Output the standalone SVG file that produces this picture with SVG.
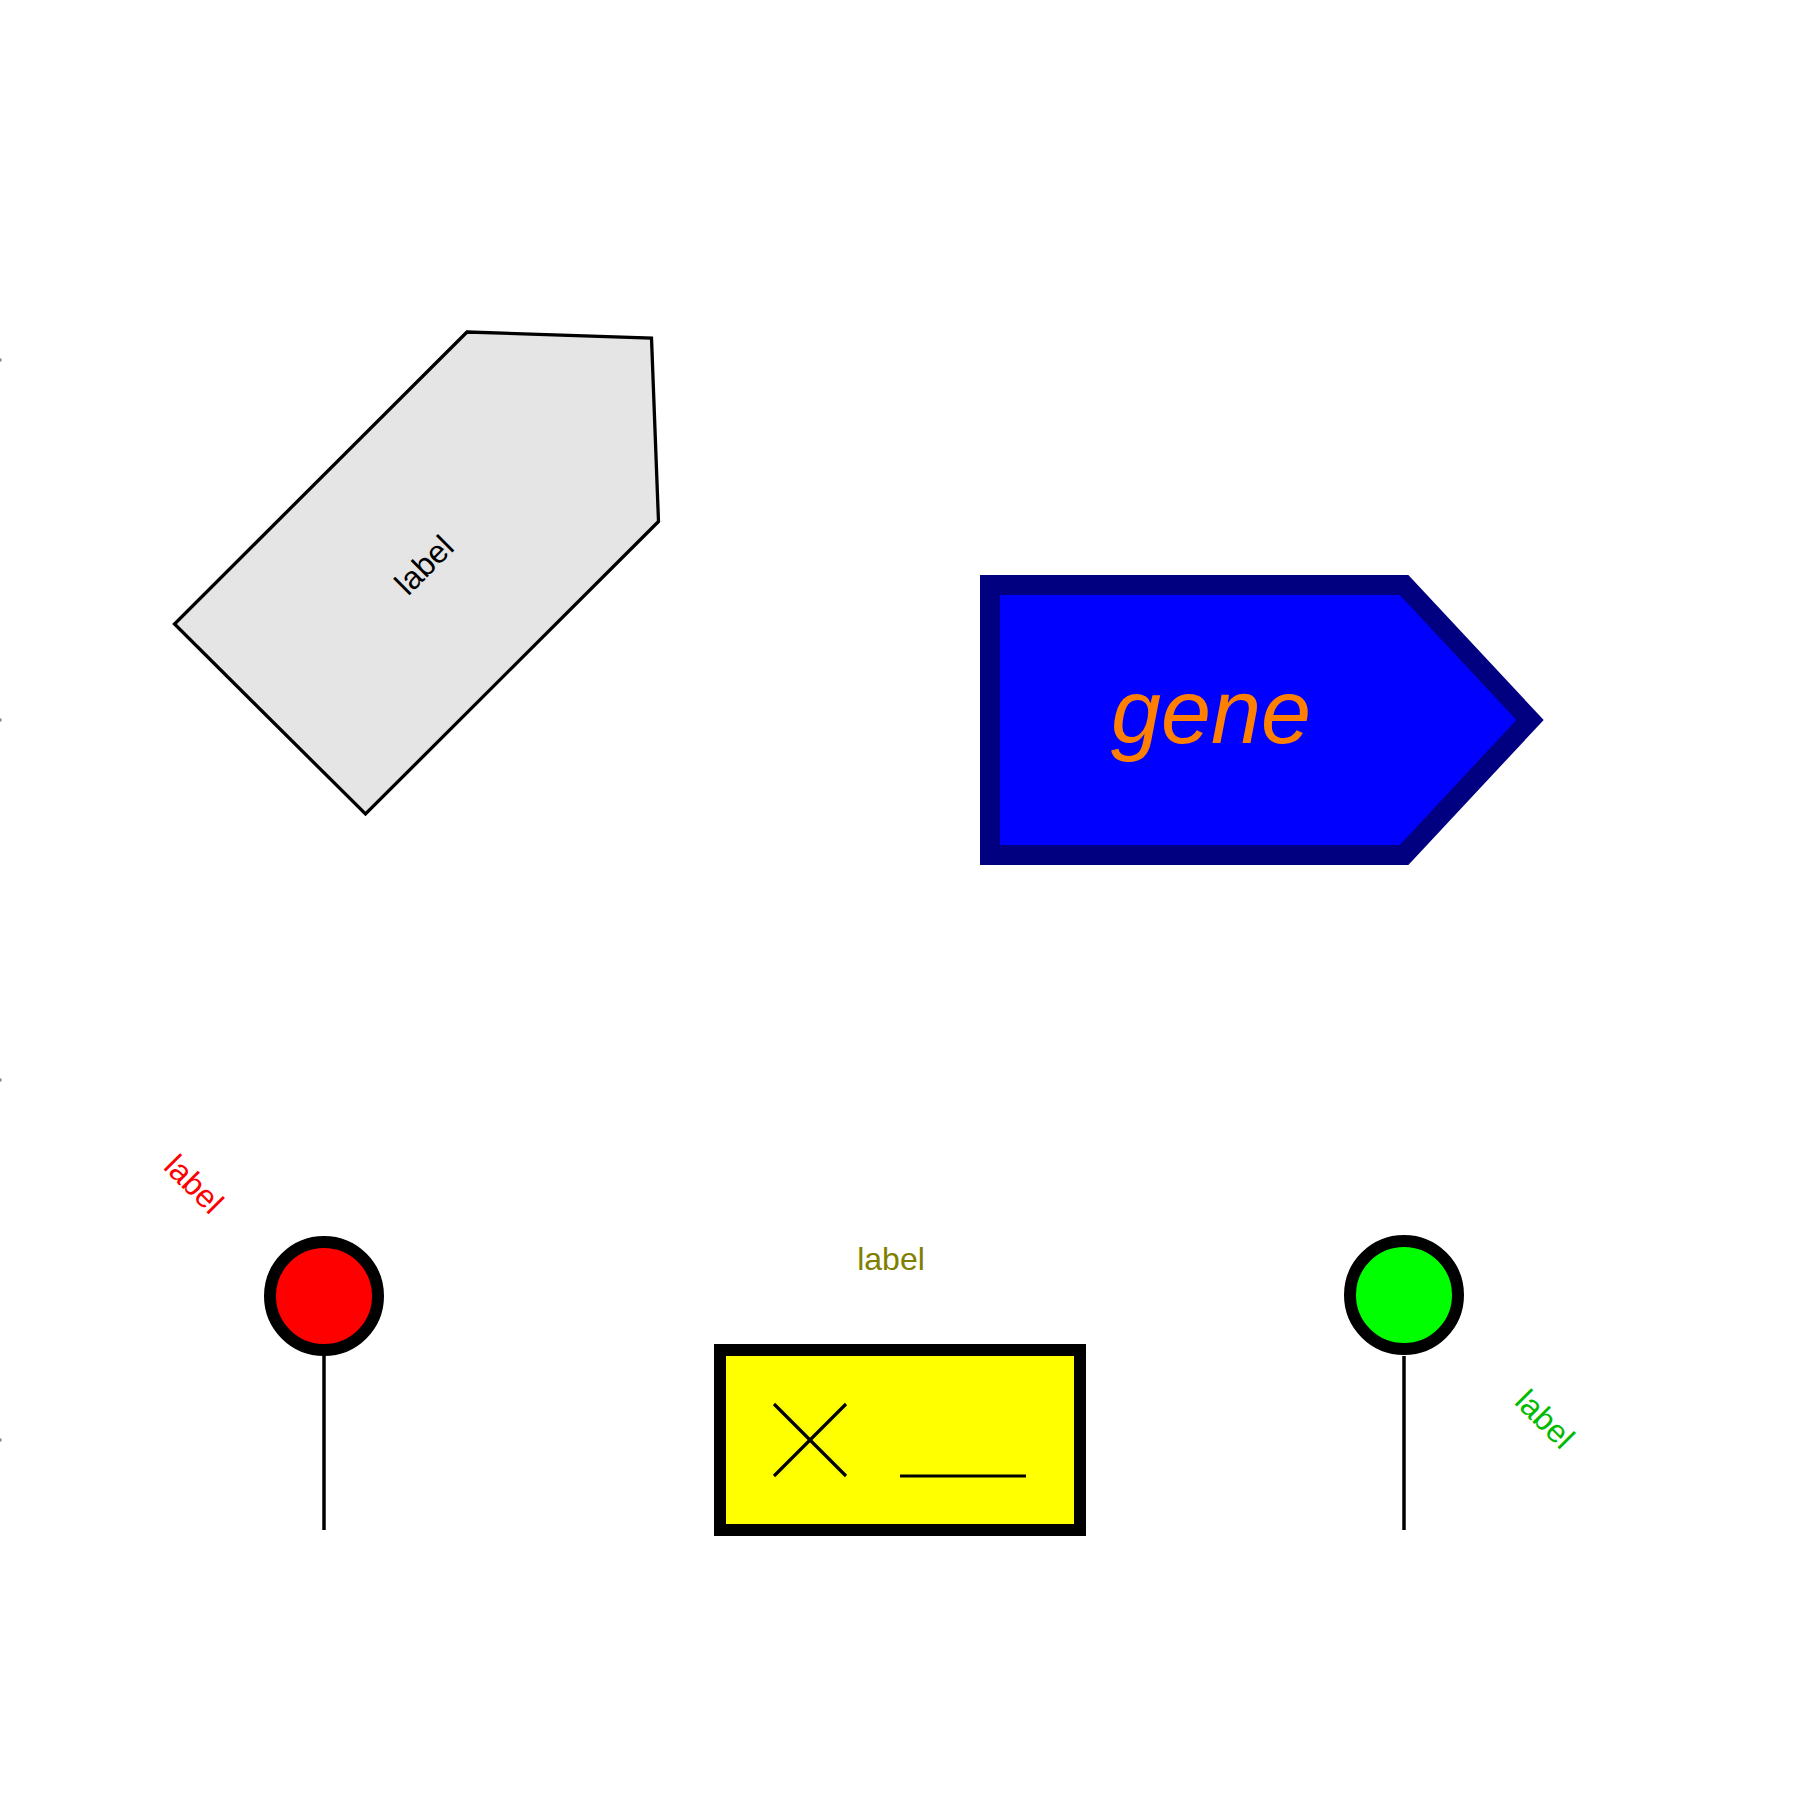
<svg xmlns="http://www.w3.org/2000/svg" width="1800" height="1800" viewBox="0 0 1800 1800">
<style>
  .lbl { font-family: "Liberation Sans", Arial, sans-serif; font-size: 32px; text-anchor: middle; }
  .pin { stroke: #000; stroke-width: 12; }
  .stem { stroke: #000; stroke-width: 3.5; fill: none; }
  .thin { stroke: #000; stroke-width: 3.2; fill: none; }
  .tick { fill: #808080; }
</style>
<rect width="1800" height="1800" fill="#ffffff"/>
<g id="ticks">
  <rect class="tick" x="0" y="358.5" width="1.5" height="3"/>
  <rect class="tick" x="0" y="718.5" width="1.5" height="3"/>
  <rect class="tick" x="0" y="1078.5" width="1.5" height="3"/>
  <rect class="tick" x="0" y="1438.5" width="1.5" height="3"/>
</g>
<g id="tag-node">
  <polygon points="467,332 651.5,338 658.5,521.5 365.5,814 174.5,624" fill="#e5e5e5" stroke="#000" stroke-width="3.3" stroke-linejoin="miter"/>
  <text class="lbl" fill="#000" transform="translate(424,565) rotate(-45)" x="0" y="11">label</text>
</g>
<g id="gene-node">
  <path d="M990,585 H1404 L1530,720 L1404,855 H990 Z" fill="#0000ff" stroke="#000080" stroke-width="20" stroke-linejoin="miter" stroke-miterlimit="10"/>
  <text x="1211" y="743" fill="#ff8000" font-family="'Liberation Sans', Arial, sans-serif" font-size="90" font-style="italic" text-anchor="middle">gene</text>
</g>
<g id="red-pin">
  <line class="stem" x1="324" y1="1356" x2="324" y2="1530"/>
  <circle class="pin" cx="324" cy="1296" r="54" fill="#ff0000"/>
  <text class="lbl" fill="#ff0000" transform="translate(194,1184) rotate(45)" x="0" y="11">label</text>
</g>
<g id="yellow-box">
  <rect x="720" y="1350" width="360" height="180" fill="#ffff00" stroke="#000" stroke-width="12"/>
  <line class="thin" x1="774" y1="1404" x2="846" y2="1476"/>
  <line class="thin" x1="846" y1="1404" x2="774" y2="1476"/>
  <line class="thin" x1="900" y1="1476" x2="1026" y2="1476"/>
  <text class="lbl" fill="#808000" x="891" y="1270">label</text>
</g>
<g id="green-pin">
  <line class="stem" x1="1404" y1="1356" x2="1404" y2="1530"/>
  <circle class="pin" cx="1404" cy="1295" r="54" fill="#00ff00"/>
  <text class="lbl" fill="#00bb00" transform="translate(1545,1419) rotate(45)" x="0" y="11">label</text>
</g>
<g id="connectors"/>
</svg>
